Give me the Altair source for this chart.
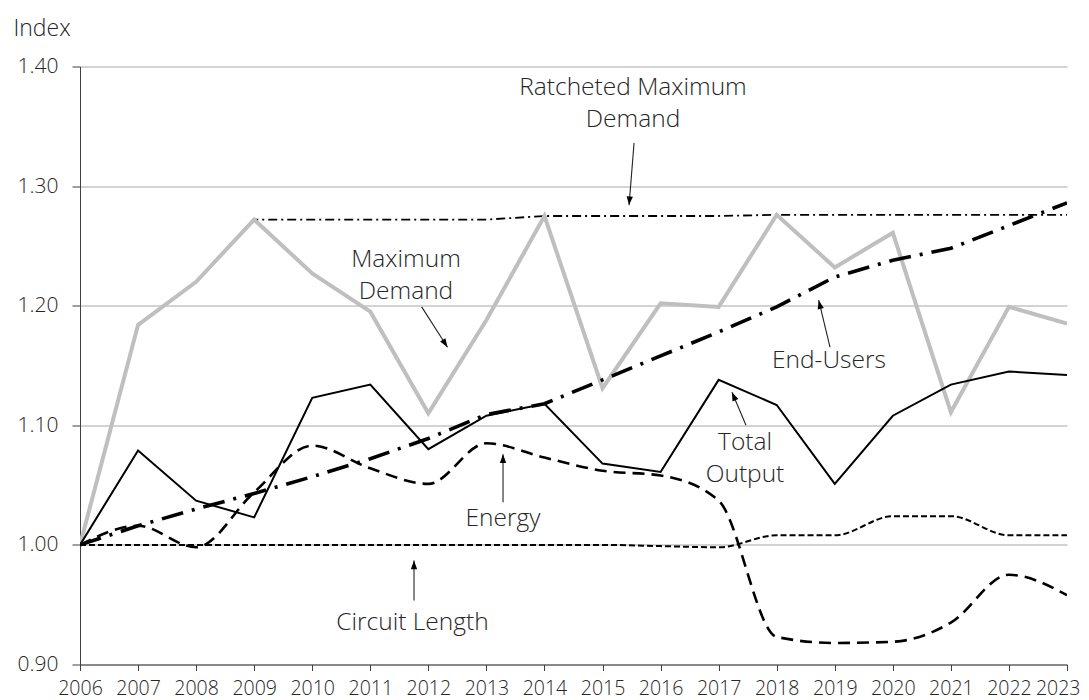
import math
import altair as alt
import pandas as pd

# ---------------- data ----------------
years = list(range(2006, 2024))
max_demand = [1.000, 1.184, 1.220, 1.272, 1.227, 1.195, 1.110, 1.188, 1.275,
              1.131, 1.202, 1.199, 1.276, 1.232, 1.261, 1.111, 1.199, 1.185]
ratcheted = [1.000, 1.184, 1.220, 1.272, 1.272, 1.272, 1.272, 1.272, 1.275,
             1.275, 1.275, 1.275, 1.276, 1.276, 1.276, 1.276, 1.276, 1.276]
end_users = [1.000, 1.016, 1.030, 1.043, 1.057, 1.072, 1.089, 1.109, 1.118,
             1.138, 1.158, 1.178, 1.199, 1.224, 1.238, 1.248, 1.267, 1.286]
total_output = [1.000, 1.079, 1.037, 1.023, 1.123, 1.134, 1.080, 1.108, 1.118,
                1.068, 1.061, 1.138, 1.117, 1.051, 1.108, 1.134, 1.145, 1.142]
energy = [1.000, 1.016, 0.998, 1.044, 1.083, 1.064, 1.051, 1.085, 1.073,
          1.062, 1.058, 1.037, 0.923, 0.918, 0.919, 0.935, 0.975, 0.958]
circuit_length = [1.000, 1.000, 1.000, 1.000, 1.000, 1.000, 1.000, 1.000, 1.000,
                  1.000, 0.999, 0.998, 1.008, 1.008, 1.024, 1.024, 1.008, 1.008]

y_ticks = [0.90, 1.00, 1.10, 1.20, 1.30, 1.40]

# annotation text lines (x, baseline y in data units)
label_text = ["Ratcheted Maximum", "Demand", "Maximum", "Demand", "End-Users",
              "Total", "Output", "Energy", "Circuit Length"]
label_x = [2015.525, 2015.525, 2011.615, 2011.615, 2018.900,
           2017.454, 2017.454, 2013.286, 2011.727]
label_y = [1.3762, 1.3498, 1.2325, 1.2060, 1.1477,
           1.0791, 1.0526, 1.0157, 0.9285]

# arrows: start -> tip (data units)
arrow_x = [2015.543, 2011.885, 2018.918, 2017.471, 2013.286, 2011.753]
arrow_y = [1.3360, 1.1990, 1.1653, 1.1000, 1.0356, 0.9536]
arrow_x2 = [2015.457, 2012.330, 2018.723, 2017.230, 2013.286, 2011.753]
arrow_y2 = [1.2841, 1.1653, 1.2046, 1.1276, 1.0757, 0.9870]

# ---------------- layout ----------------
W, H = 987, 598
X0, X1 = 2006, 2023
Y0, Y1 = 0.90, 1.40
FONT = "Open Sans"
TXT = "#262626"

xs = alt.Scale(domain=[X0, X1], nice=False, zero=False)
ys = alt.Scale(domain=[Y0, Y1], nice=False, zero=False)

x_axis = alt.Axis(values=years, format="d", title=None, grid=False,
                  tickSize=6, tickColor="#404040", domainColor="#404040",
                  labelFontSize=19.5, labelFont=FONT, labelColor=TXT,
                  labelFontWeight=300,
                  labelAlign=alt.ExprRef(expr="datum.value == 2023 ? 'right' : 'center'"),
                  labelOffset=alt.ExprRef(expr="datum.value == 2023 ? 13 : 0"),
                  labelPadding=9, labelFlush=False, labelOverlap=False)
y_axis = alt.Axis(values=y_ticks, format=".2f", title="Index", grid=True,
                  gridColor="#c4c4c4", gridWidth=1.5,
                  tickSize=8, tickColor="#404040", domainColor="#404040",
                  labelFontSize=21, labelFont=FONT, labelColor=TXT,
                  labelFontWeight=300,
                  labelPadding=14,
                  titleAngle=0, titleAlign="left", titleBaseline="alphabetic",
                  titleX=-67, titleY=-31, titleFont=FONT, titleFontSize=23,
                  titleFontWeight=300, titleColor=TXT)

series_df = pd.DataFrame({
    "year": years,
    "max_demand": max_demand,
    "ratcheted": ratcheted,
    "end_users": end_users,
    "total_output": total_output,
    "energy": energy,
    "circuit_length": circuit_length,
})


def line(col, color, width, dash=None, interp="linear", first=False):
    kw = dict(color=color, strokeWidth=width, interpolate=interp, clip=True)
    if dash:
        kw["strokeDash"] = dash
    m = alt.Chart(series_df).mark_line(**kw)
    if first:
        return m.encode(x=alt.X("year:Q", scale=xs, axis=x_axis),
                        y=alt.Y(f"{col}:Q", scale=ys, axis=y_axis))
    return m.encode(x=alt.X("year:Q", scale=xs),
                    y=alt.Y(f"{col}:Q", scale=ys))


l_ratch = line("ratcheted", "#000000", 1.8, [9, 4, 2, 4], first=True)
l_max = line("max_demand", "#bfbfbf", 4)
l_circ = line("circuit_length", "#000000", 2, [6, 3], "monotone")
l_energy = line("energy", "#000000", 2.6, [12, 7], "monotone")
l_total = line("total_output", "#000000", 2)
l_users = line("end_users", "#000000", 3.6, [22, 9, 3, 9])

labels_df = pd.DataFrame({"t": label_text, "x": label_x, "y": label_y})
labels = alt.Chart(labels_df).mark_text(
    font=FONT, fontSize=24.5, fontWeight=300, color=TXT,
    align="center", baseline="alphabetic"
).encode(x=alt.X("x:Q", scale=xs), y=alt.Y("y:Q", scale=ys), text="t:N")

# arrow head angles from the direction on screen
px_per_x = W / (X1 - X0)
px_per_y = H / (Y1 - Y0)
angles = []
for a, b, a2, b2 in zip(arrow_x, arrow_y, arrow_x2, arrow_y2):
    dx = (a2 - a) * px_per_x
    dy = -(b2 - b) * px_per_y
    angles.append(math.degrees(math.atan2(dx, -dy)) % 360)

arrows_df = pd.DataFrame({"x": arrow_x, "y": arrow_y, "x2": arrow_x2,
                          "y2": arrow_y2, "ang": angles})
shafts = alt.Chart(arrows_df).mark_rule(color="#222222", strokeWidth=1.1).encode(
    x=alt.X("x:Q", scale=xs), y=alt.Y("y:Q", scale=ys),
    x2="x2:Q", y2="y2:Q")
heads = alt.Chart(arrows_df).mark_point(
    shape="M0,0L0.45,1.25L-0.45,1.25Z", filled=True, fill="#000000",
    stroke=None, opacity=1, size=196
).encode(x=alt.X("x2:Q", scale=xs), y=alt.Y("y2:Q", scale=ys),
         angle=alt.Angle("ang:Q", scale=None))

chart = alt.layer(
    l_ratch, l_max, l_circ, l_energy, l_total, l_users, shafts, heads, labels
).properties(
    width=W, height=H,
    autosize=alt.AutoSizeParams(type="none"),
    padding={"left": 72, "top": 58.5, "right": 14, "bottom": 40},
    background="white",
).configure_view(stroke=None)

chart.save("out.html", embed_options={"renderer": "svg", "actions": False})
